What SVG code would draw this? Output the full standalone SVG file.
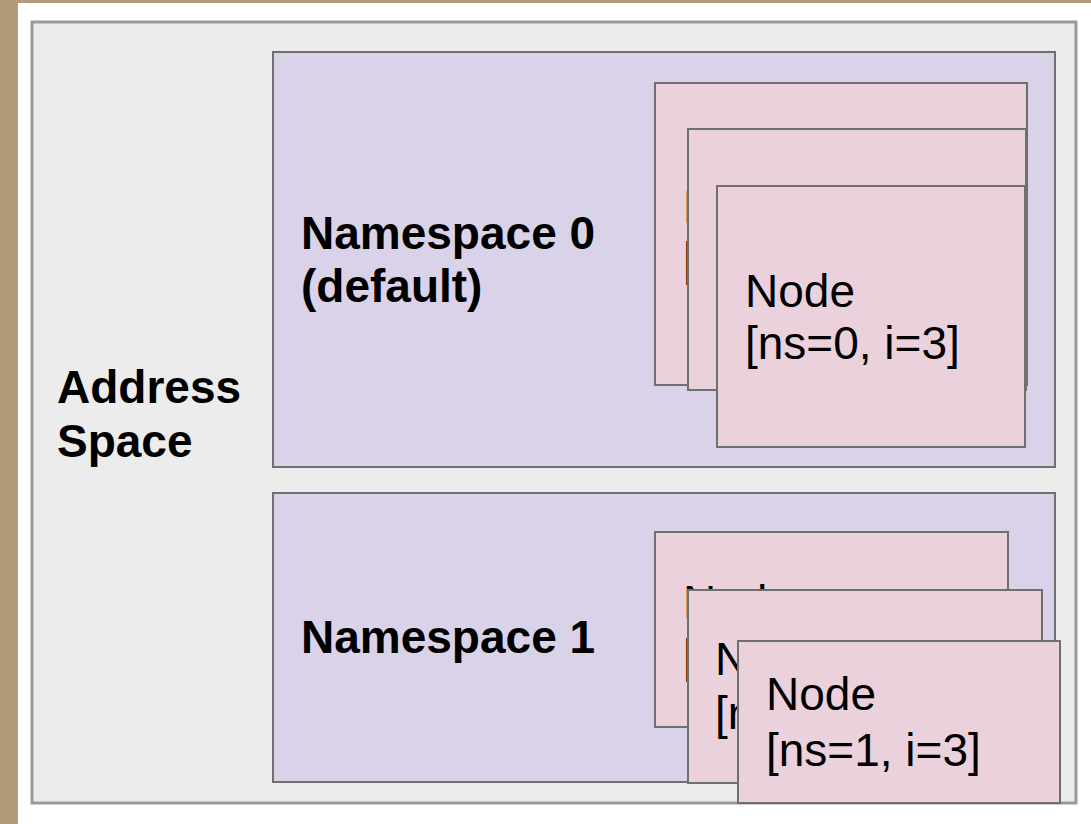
<svg xmlns="http://www.w3.org/2000/svg" width="1091" height="824" viewBox="0 0 1091 824">
  <defs>
    <style>
      .space { fill: #ececec; stroke: #9a9a9a; stroke-width: 3; }
      .ns { fill: #d9d2e9; stroke: #6f6f6f; stroke-width: 2; }
      .node { fill: #ead1dc; stroke: #6f6f6f; stroke-width: 2; }
      .label { font-family: "Liberation Sans", Arial, sans-serif; font-weight: bold; font-size: 46px; fill: #000; }
      .ntext { font-family: "Liberation Sans", Arial, sans-serif; font-size: 46px; fill: #000; }
    </style>
    <!-- visible strips of the stacked cards that sit behind the front card -->
    <clipPath id="clip-ns0-1"><rect x="655" y="83" width="33" height="302"/></clipPath>
    <clipPath id="clip-ns0-2"><rect x="688" y="129" width="29" height="261"/></clipPath>
    <clipPath id="clip-ns1-1"><path d="M655 532 H1008 V590 H688 V727 H655 Z"/></clipPath>
    <clipPath id="clip-ns1-2"><path d="M688 590 H1042 V641 H738 V783 H688 Z"/></clipPath>
  </defs>

  <!-- cork board backdrop and white sheet -->
  <rect x="0" y="0" width="1091" height="824" fill="#b39a78"/>
  <rect x="18" y="3" width="1073" height="821" fill="#ffffff"/>

  <g id="address-space">
    <rect class="space" x="32" y="22" width="1044" height="781"/>
    <text class="label" x="57" y="403">Address</text>
    <text class="label" x="57" y="457">Space</text>
  </g>

  <g id="namespace-0">
    <rect class="ns" x="273" y="52" width="782" height="415"/>
    <text class="label" x="301" y="249">Namespace 0</text>
    <text class="label" x="301" y="302">(default)</text>
  </g>

  <g id="ns0-node-1">
    <rect class="node" x="655" y="83" width="372" height="302"/>
    <g clip-path="url(#clip-ns0-1)">
      <text class="ntext" x="683" y="223">Node</text>
      <text class="ntext" x="683" y="275">[ns=0, i=1]</text>
    </g>
  </g>
  <g id="ns0-node-2">
    <rect class="node" x="688" y="129" width="338" height="261"/>
    <g clip-path="url(#clip-ns0-2)">
      <text class="ntext" x="715" y="248">Node</text>
      <text class="ntext" x="715" y="300">[ns=0, i=2]</text>
    </g>
  </g>
  <g id="ns0-node-3">
    <rect class="node" x="717" y="186" width="308" height="261"/>
    <text class="ntext" x="745" y="307">Node</text>
    <text class="ntext" x="745" y="359">[ns=0, i=3]</text>
  </g>

  <g id="namespace-1">
    <rect class="ns" x="273" y="493" width="782" height="289"/>
    <text class="label" x="301" y="653">Namespace 1</text>
  </g>

  <g id="ns1-node-1">
    <rect class="node" x="655" y="532" width="353" height="195"/>
    <g clip-path="url(#clip-ns1-1)">
      <text class="ntext" x="683" y="618">Node</text>
      <text class="ntext" x="683" y="672">[ns=1, i=1]</text>
    </g>
  </g>
  <g id="ns1-node-2">
    <rect class="node" x="688" y="590" width="354" height="193"/>
    <g clip-path="url(#clip-ns1-2)">
      <text class="ntext" x="715" y="675">Node</text>
      <text class="ntext" x="715" y="729">[ns=1, i=2]</text>
    </g>
  </g>
  <g id="ns1-node-3">
    <rect class="node" x="738" y="641" width="322" height="162"/>
    <text class="ntext" x="766" y="710">Node</text>
    <text class="ntext" x="766" y="766">[ns=1, i=3]</text>
  </g>

  <g id="connectors"></g>
</svg>
